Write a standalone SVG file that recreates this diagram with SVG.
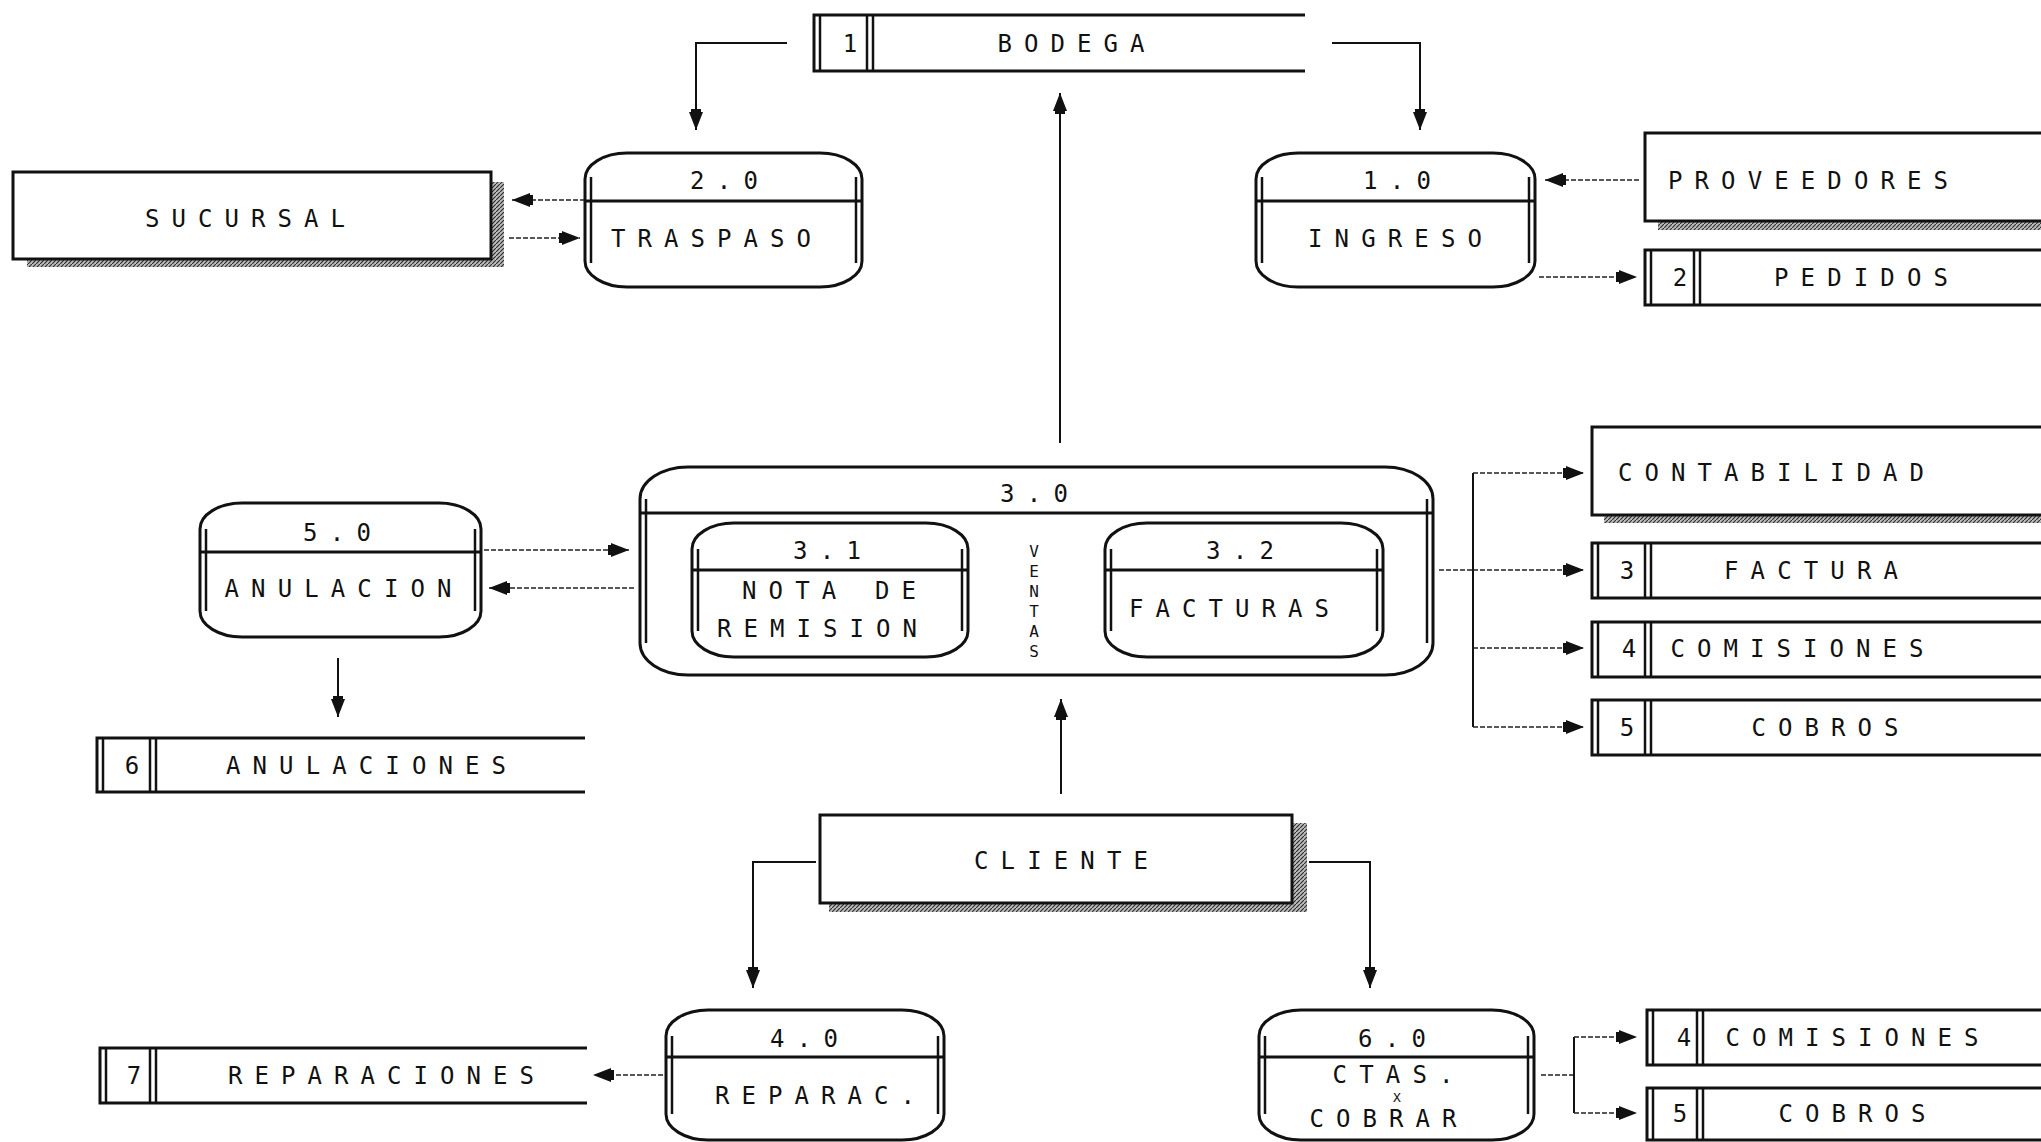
<svg xmlns="http://www.w3.org/2000/svg" width="2041" height="1142" viewBox="0 0 2041 1142">
<defs>
<pattern id="hatch" width="4" height="4" patternUnits="userSpaceOnUse">
<rect width="4" height="4" fill="#bbb"/>
<path d="M0,4 L4,0" stroke="#333" stroke-width="1.2"/>
</pattern>
<marker id="ah" viewBox="0 0 22 16" refX="21" refY="8" markerWidth="22" markerHeight="16" markerUnits="userSpaceOnUse" orient="auto">
<path d="M3,1 L21,8 L3,15 Z" fill="#111"/>
<rect x="0" y="3" width="3" height="10" fill="#111"/>
</marker>
<style>
.proc{fill:#fff;stroke:#111;stroke-width:3}
.div{stroke:#111;stroke-width:3}
.side{stroke:#111;stroke-width:2.5}
.st{fill:none;stroke:#111;stroke-width:3}
.sd{stroke:#111;stroke-width:2.5}
.ent{fill:#fff;stroke:#111;stroke-width:3}
.shadow{fill:url(#hatch)}
.t{font-family:"DejaVu Sans Mono","Liberation Mono",monospace;font-size:24px;fill:#111;text-anchor:middle}
.tv{font-family:"DejaVu Sans Mono","Liberation Mono",monospace;font-size:16px;fill:#111;text-anchor:middle}
.c{fill:none;stroke:#111;stroke-width:2}
.cd{fill:none;stroke:#222;stroke-width:1.6;stroke-dasharray:5 2}
</style>
</defs>
<rect width="2041" height="1142" fill="#fff"/>

<g id="connectors">
<polyline class="c" points="787,43 696,43 696,130" marker-end="url(#ah)"/>
<polyline class="c" points="1332,43 1420,43 1420,130" marker-end="url(#ah)"/>
<line class="c" x1="1060" y1="443" x2="1060" y2="93" marker-end="url(#ah)"/>
<line class="cd" x1="585" y1="200" x2="512" y2="200" marker-end="url(#ah)"/>
<line class="cd" x1="509" y1="238" x2="580" y2="238" marker-end="url(#ah)"/>
<line class="cd" x1="1639" y1="180" x2="1545" y2="180" marker-end="url(#ah)"/>
<line class="cd" x1="1539" y1="277" x2="1637" y2="277" marker-end="url(#ah)"/>
<line class="cd" x1="484" y1="550" x2="629" y2="550" marker-end="url(#ah)"/>
<line class="cd" x1="634" y1="588" x2="489" y2="588" marker-end="url(#ah)"/>
<line class="c" x1="338" y1="658" x2="338" y2="717" marker-end="url(#ah)"/>
<line class="cd" x1="1439" y1="570" x2="1473" y2="570"/>
<line class="c" x1="1473" y1="473" x2="1473" y2="727"/>
<line class="cd" x1="1473" y1="473" x2="1584" y2="473" marker-end="url(#ah)"/>
<line class="cd" x1="1473" y1="570" x2="1584" y2="570" marker-end="url(#ah)"/>
<line class="cd" x1="1473" y1="648" x2="1584" y2="648" marker-end="url(#ah)"/>
<line class="cd" x1="1473" y1="727" x2="1584" y2="727" marker-end="url(#ah)"/>
<line class="c" x1="1061" y1="794" x2="1061" y2="699" marker-end="url(#ah)"/>
<polyline class="c" points="816,862 753,862 753,988" marker-end="url(#ah)"/>
<polyline class="c" points="1309,862 1370,862 1370,988" marker-end="url(#ah)"/>
<line class="cd" x1="663" y1="1075" x2="593" y2="1075" marker-end="url(#ah)"/>
<line class="cd" x1="1541" y1="1075" x2="1574" y2="1075"/>
<line class="c" x1="1574" y1="1037" x2="1574" y2="1113"/>
<line class="cd" x1="1574" y1="1037" x2="1637" y2="1037" marker-end="url(#ah)"/>
<line class="cd" x1="1574" y1="1113" x2="1637" y2="1113" marker-end="url(#ah)"/>
</g>

<g id="s-bodega">
<path class="st" d="M1305,15 H814 V71 H1305"/>
<line class="sd" x1="820" y1="15" x2="820" y2="71"/>
<line class="sd" x1="867" y1="15" x2="867" y2="71"/>
<line class="sd" x1="873" y1="15" x2="873" y2="71"/>
<text class="t" x="850" y="52">1</text>
<text class="t" x="1071" y="52" textLength="147" lengthAdjust="spacing">BODEGA</text>
</g>

<g id="p-traspaso">
<rect class="proc" x="585" y="153" width="277" height="134" rx="42" ry="26"/>
<line class="div" x1="585" y1="201" x2="862" y2="201"/>
<line class="side" x1="591" y1="177" x2="591" y2="263"/>
<line class="side" x1="856" y1="177" x2="856" y2="263"/>
<text class="t" x="724" y="189" textLength="68" lengthAdjust="spacing">2.0</text>
<text class="t" x="711" y="247" textLength="200" lengthAdjust="spacing">TRASPASO</text>
</g>

<g id="p-ingreso">
<rect class="proc" x="1256" y="153" width="279" height="134" rx="42" ry="26"/>
<line class="div" x1="1256" y1="201" x2="1535" y2="201"/>
<line class="side" x1="1262" y1="177" x2="1262" y2="263"/>
<line class="side" x1="1529" y1="177" x2="1529" y2="263"/>
<text class="t" x="1397" y="189" textLength="68" lengthAdjust="spacing">1.0</text>
<text class="t" x="1395" y="247" textLength="174" lengthAdjust="spacing">INGRESO</text>
</g>

<g id="e-sucursal">
<rect class="shadow" x="491" y="182" width="13" height="85"/>
<rect class="shadow" x="27" y="259" width="477" height="8"/>
<rect class="ent" x="13" y="172" width="478" height="87"/>
<text class="t" x="245" y="227" textLength="200" lengthAdjust="spacing">SUCURSAL</text>
</g>

<g id="e-proveedores">
<rect class="shadow" x="1658" y="221" width="400" height="9"/>
<rect class="ent" x="1645" y="133" width="420" height="88"/>
<text class="t" x="1808" y="189" textLength="280" lengthAdjust="spacing">PROVEEDORES</text>
</g>

<g id="s-pedidos">
<path class="st" d="M2045,250 H1645 V305 H2045"/>
<line class="sd" x1="1651" y1="250" x2="1651" y2="305"/>
<line class="sd" x1="1694" y1="250" x2="1694" y2="305"/>
<line class="sd" x1="1700" y1="250" x2="1700" y2="305"/>
<text class="t" x="1680" y="286">2</text>
<text class="t" x="1861" y="286" textLength="174" lengthAdjust="spacing">PEDIDOS</text>
</g>

<g id="p-ventas">
<rect class="proc" x="640" y="467" width="793" height="208" rx="48" ry="32"/>
<line class="div" x1="640" y1="513" x2="1433" y2="513"/>
<line class="side" x1="646" y1="499" x2="646" y2="643"/>
<line class="side" x1="1427" y1="499" x2="1427" y2="643"/>
<text class="t" x="1034" y="502" textLength="68" lengthAdjust="spacing">3.0</text>
<text class="tv" x="1034" y="557">V</text>
<text class="tv" x="1034" y="577">E</text>
<text class="tv" x="1034" y="597">N</text>
<text class="tv" x="1034" y="617">T</text>
<text class="tv" x="1034" y="637">A</text>
<text class="tv" x="1034" y="657">S</text>
</g>

<g id="p-nota">
<rect class="proc" x="692" y="523" width="276" height="134" rx="42" ry="26"/>
<line class="div" x1="692" y1="570" x2="968" y2="570"/>
<line class="side" x1="698" y1="549" x2="698" y2="631"/>
<line class="side" x1="962" y1="549" x2="962" y2="631"/>
<text class="t" x="827" y="559" textLength="68" lengthAdjust="spacing">3.1</text>
<text class="t" x="829" y="599" textLength="174" lengthAdjust="spacing">NOTA DE</text>
<text class="t" x="817" y="637" textLength="200" lengthAdjust="spacing">REMISION</text>
</g>

<g id="p-facturas">
<rect class="proc" x="1105" y="523" width="278" height="134" rx="42" ry="26"/>
<line class="div" x1="1105" y1="570" x2="1383" y2="570"/>
<line class="side" x1="1111" y1="549" x2="1111" y2="631"/>
<line class="side" x1="1377" y1="549" x2="1377" y2="631"/>
<text class="t" x="1240" y="559" textLength="68" lengthAdjust="spacing">3.2</text>
<text class="t" x="1229" y="617" textLength="200" lengthAdjust="spacing">FACTURAS</text>
</g>

<g id="p-anulacion">
<rect class="proc" x="200" y="503" width="281" height="134" rx="42" ry="26"/>
<line class="div" x1="200" y1="552" x2="481" y2="552"/>
<line class="side" x1="206" y1="529" x2="206" y2="611"/>
<line class="side" x1="475" y1="529" x2="475" y2="611"/>
<text class="t" x="337" y="541" textLength="68" lengthAdjust="spacing">5.0</text>
<text class="t" x="338" y="597" textLength="227" lengthAdjust="spacing">ANULACION</text>
</g>

<g id="s-anulaciones">
<path class="st" d="M585,738 H97 V792 H585"/>
<line class="sd" x1="103" y1="738" x2="103" y2="792"/>
<line class="sd" x1="150" y1="738" x2="150" y2="792"/>
<line class="sd" x1="156" y1="738" x2="156" y2="792"/>
<text class="t" x="132" y="774">6</text>
<text class="t" x="366" y="774" textLength="280" lengthAdjust="spacing">ANULACIONES</text>
</g>

<g id="e-contabilidad">
<rect class="shadow" x="1604" y="515" width="450" height="8"/>
<rect class="ent" x="1592" y="427" width="470" height="88"/>
<text class="t" x="1771" y="481" textLength="306" lengthAdjust="spacing">CONTABILIDAD</text>
</g>

<g id="s-factura">
<path class="st" d="M2045,543 H1592 V598 H2045"/>
<line class="sd" x1="1598" y1="543" x2="1598" y2="598"/>
<line class="sd" x1="1645" y1="543" x2="1645" y2="598"/>
<line class="sd" x1="1651" y1="543" x2="1651" y2="598"/>
<text class="t" x="1627" y="579">3</text>
<text class="t" x="1811" y="579" textLength="174" lengthAdjust="spacing">FACTURA</text>
</g>

<g id="s-comisiones">
<path class="st" d="M2045,622 H1592 V677 H2045"/>
<line class="sd" x1="1598" y1="622" x2="1598" y2="677"/>
<line class="sd" x1="1645" y1="622" x2="1645" y2="677"/>
<line class="sd" x1="1651" y1="622" x2="1651" y2="677"/>
<text class="t" x="1629" y="657">4</text>
<text class="t" x="1797" y="657" textLength="253" lengthAdjust="spacing">COMISIONES</text>
</g>

<g id="s-cobros">
<path class="st" d="M2045,700 H1592 V755 H2045"/>
<line class="sd" x1="1598" y1="700" x2="1598" y2="755"/>
<line class="sd" x1="1645" y1="700" x2="1645" y2="755"/>
<line class="sd" x1="1651" y1="700" x2="1651" y2="755"/>
<text class="t" x="1627" y="736">5</text>
<text class="t" x="1825" y="736" textLength="147" lengthAdjust="spacing">COBROS</text>
</g>

<g id="e-cliente">
<rect class="shadow" x="1292" y="823" width="15" height="89"/>
<rect class="shadow" x="829" y="903" width="478" height="9"/>
<rect class="ent" x="820" y="815" width="472" height="88"/>
<text class="t" x="1061" y="869" textLength="174" lengthAdjust="spacing">CLIENTE</text>
</g>

<g id="p-reparac">
<rect class="proc" x="666" y="1010" width="278" height="130" rx="42" ry="26"/>
<line class="div" x1="666" y1="1057" x2="944" y2="1057"/>
<line class="side" x1="672" y1="1036" x2="672" y2="1114"/>
<line class="side" x1="938" y1="1036" x2="938" y2="1114"/>
<text class="t" x="804" y="1047" textLength="68" lengthAdjust="spacing">4.0</text>
<text class="t" x="815" y="1104" textLength="200" lengthAdjust="spacing">REPARAC.</text>
</g>

<g id="s-reparaciones">
<path class="st" d="M587,1048 H100 V1103 H587"/>
<line class="sd" x1="106" y1="1048" x2="106" y2="1103"/>
<line class="sd" x1="150" y1="1048" x2="150" y2="1103"/>
<line class="sd" x1="156" y1="1048" x2="156" y2="1103"/>
<text class="t" x="134" y="1084">7</text>
<text class="t" x="381" y="1084" textLength="306" lengthAdjust="spacing">REPARACIONES</text>
</g>

<g id="p-ctas">
<rect class="proc" x="1259" y="1010" width="275" height="130" rx="42" ry="26"/>
<line class="div" x1="1259" y1="1057" x2="1534" y2="1057"/>
<line class="side" x1="1265" y1="1036" x2="1265" y2="1114"/>
<line class="side" x1="1528" y1="1036" x2="1528" y2="1114"/>
<text class="t" x="1392" y="1047" textLength="68" lengthAdjust="spacing">6.0</text>
<text class="t" x="1393" y="1083" textLength="121" lengthAdjust="spacing">CTAS.</text>
<text class="t" x="1397" y="1102" style="font-size:13px">X</text>
<text class="t" x="1383" y="1127" textLength="147" lengthAdjust="spacing">COBRAR</text>
</g>

<g id="s-comisiones2">
<path class="st" d="M2045,1010 H1647 V1065 H2045"/>
<line class="sd" x1="1653" y1="1010" x2="1653" y2="1065"/>
<line class="sd" x1="1697" y1="1010" x2="1697" y2="1065"/>
<line class="sd" x1="1703" y1="1010" x2="1703" y2="1065"/>
<text class="t" x="1684" y="1046">4</text>
<text class="t" x="1852" y="1046" textLength="253" lengthAdjust="spacing">COMISIONES</text>
</g>

<g id="s-cobros2">
<path class="st" d="M2045,1088 H1647 V1140 H2045"/>
<line class="sd" x1="1653" y1="1088" x2="1653" y2="1140"/>
<line class="sd" x1="1697" y1="1088" x2="1697" y2="1140"/>
<line class="sd" x1="1703" y1="1088" x2="1703" y2="1140"/>
<text class="t" x="1680" y="1122">5</text>
<text class="t" x="1852" y="1122" textLength="147" lengthAdjust="spacing">COBROS</text>
</g>
</svg>
